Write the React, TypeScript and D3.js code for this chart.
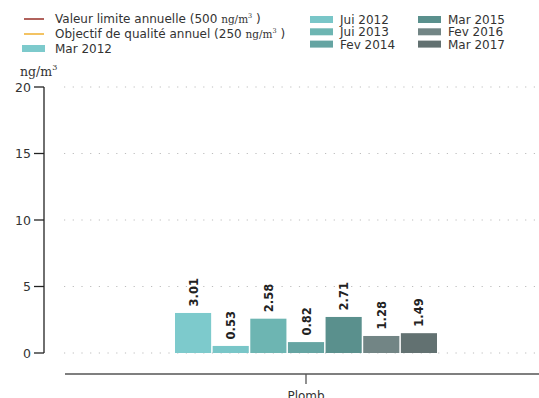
import React, { useRef, useEffect } from "react";
import * as d3 from "d3";

const series = ["Mar 2012", "Jui 2012", "Jui 2013", "Fev 2014", "Mar 2015", "Fev 2016", "Mar 2017"];
const values = [3.01, 0.53, 2.58, 0.82, 2.71, 1.28, 1.49];
const colors = ["#7dcacc", "#79c6c8", "#6db5b2", "#65a4a2", "#5a908d", "#728585", "#627171"];
const categories = ["Plomb"];
const yTicks = [0, 5, 10, 15, 20];

const W = 539;
const H = 398;
const FONT = "DejaVu Sans, sans-serif";
const SERIF = "DejaVu Serif, serif";

export default function App() {
  const ref = useRef<SVGSVGElement | null>(null);

  useEffect(() => {
    const svg = d3.select(ref.current);
    svg.selectAll("*").remove();

    const y = d3.scaleLinear().domain([0, 20]).range([353, 87]);
    const x = d3.scaleBand().domain(categories).range([175, 437]).padding(0);
    const inner = d3
      .scaleBand()
      .domain(series)
      .range([175, 437])
      .paddingInner(0.04);

    // grid
    svg
      .append("g")
      .selectAll("line")
      .data(yTicks)
      .enter()
      .append("line")
      .attr("x1", 64)
      .attr("x2", W)
      .attr("y1", (d) => y(d))
      .attr("y2", (d) => y(d))
      .attr("stroke", "#bdbdbd")
      .attr("stroke-width", 1.2)
      .attr("stroke-dasharray", "1.2,7.5");

    // y axis
    const ya = svg.append("g").attr("transform", "translate(44,0)");
    ya.append("line").attr("x1", 0).attr("x2", 0).attr("y1", y(20)).attr("y2", y(0)).attr("stroke", "#222").attr("stroke-width", 1.3);
    ya.selectAll("line.t")
      .data(yTicks)
      .enter()
      .append("line")
      .attr("class", "t")
      .attr("x1", -10)
      .attr("x2", 0)
      .attr("y1", (d) => y(d))
      .attr("y2", (d) => y(d))
      .attr("stroke", "#222")
      .attr("stroke-width", 1.3);
    ya.selectAll("text")
      .data(yTicks)
      .enter()
      .append("text")
      .attr("x", -13)
      .attr("y", (d) => y(d) + 4.5)
      .attr("text-anchor", "end")
      .attr("font-family", FONT)
      .attr("font-size", 12.5)
      .attr("fill", "#333")
      .text((d) => String(d));

    // unit
    const unit = svg.append("text").attr("x", 20).attr("y", 76).attr("font-family", SERIF).attr("font-size", 12.5).attr("fill", "#333");
    unit.append("tspan").text("ng/m");
    unit.append("tspan").attr("dy", -6).attr("font-size", 8).text("3");

    // x axis
    svg.append("line").attr("x1", 65).attr("x2", W).attr("y1", 374).attr("y2", 374).attr("stroke", "#555").attr("stroke-width", 1.3);
    categories.forEach((c) => {
      const cx = x(c)! + x.bandwidth() / 2;
      svg.append("line").attr("x1", cx).attr("x2", cx).attr("y1", 374).attr("y2", 384).attr("stroke", "#555").attr("stroke-width", 1.3);
      svg.append("text").attr("x", cx).attr("y", 400).attr("text-anchor", "middle").attr("font-family", FONT).attr("font-size", 12).attr("fill", "#333").text(c);
    });

    // bars
    svg
      .append("g")
      .selectAll("rect")
      .data(values)
      .enter()
      .append("rect")
      .attr("x", (_, i) => inner(series[i])!)
      .attr("width", inner.bandwidth())
      .attr("y", (d) => y(d))
      .attr("height", (d) => y(0) - y(d))
      .attr("fill", (_, i) => colors[i]);

    svg
      .append("g")
      .selectAll("text")
      .data(values)
      .enter()
      .append("text")
      .attr("transform", (d, i) => {
        const cx = inner(series[i])! + inner.bandwidth() / 2 + 4.5;
        return `translate(${cx},${y(d) - 6.5}) rotate(-90)`;
      })
      .attr("font-family", FONT)
      .attr("font-size", 11.5)
      .attr("font-weight", "bold")
      .attr("fill", "#222")
      .text((d) => d.toFixed(2));

    // legend left
    const lg = svg.append("g").attr("font-family", FONT).attr("font-size", 12).attr("fill", "#333");
    const leftItems = [
      { label: "Valeur limite annuelle (500 ", color: "#9e3a33", yy: 19 },
      { label: "Objectif de qualité annuel (250 ", color: "#f0b43c", yy: 34 },
    ];
    leftItems.forEach((it) => {
      lg.append("line").attr("x1", 24).attr("x2", 44).attr("y1", it.yy).attr("y2", it.yy).attr("stroke", it.color).attr("stroke-width", 1.6);
      const t = lg.append("text").attr("x", 55).attr("y", it.yy + 4);
      t.append("tspan").text(it.label);
      t.append("tspan").attr("font-family", SERIF).attr("font-size", 10.5).text("ng/m");
      t.append("tspan").attr("font-family", SERIF).attr("font-size", 6.5).attr("dy", -5).text("3");
      t.append("tspan").attr("dy", 5).text(" )");
    });
    lg.append("rect").attr("x", 22).attr("y", 45).attr("width", 23).attr("height", 7).attr("fill", colors[0]);
    lg.append("text").attr("x", 55).attr("y", 53).text(series[0]);

    const rightCols = [
      { sx: 310, tx: 340, items: [1, 2, 3] },
      { sx: 418, tx: 448, items: [4, 5, 6] },
    ];
    rightCols.forEach((col) => {
      col.items.forEach((idx, r) => {
        const yy = 19.5 + r * 12.3;
        lg.append("rect").attr("x", col.sx).attr("y", yy - 3.5).attr("width", 23).attr("height", 7).attr("fill", colors[idx]);
        lg.append("text").attr("x", col.tx).attr("y", yy + 4.5).text(series[idx]);
      });
    });
  }, []);

  return (
    <svg
      ref={ref}
      width={W}
      height={H}
      style={{ position: "absolute", left: 0, top: 0, background: "#fff" }}
    />
  );
}
